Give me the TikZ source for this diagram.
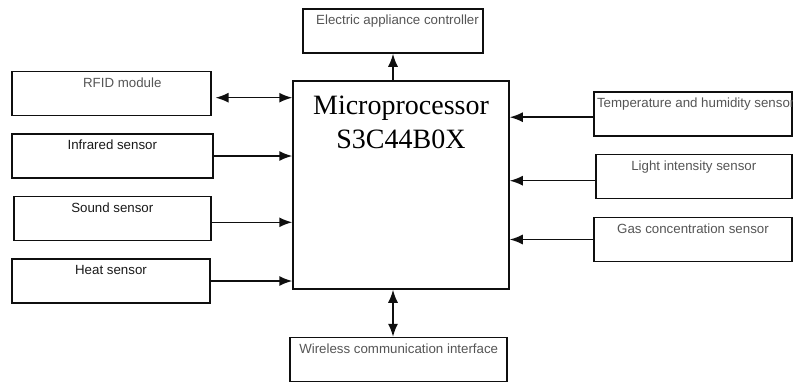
\documentclass[tikz,border=0pt]{standalone}
\usepackage{fontspec}
\usetikzlibrary{arrows.meta}
\newfontfamily\labelfont{Liberation Sans}
\newfontfamily\chipfont{Liberation Serif}
\definecolor{ink}{RGB}{25,25,25}
\definecolor{dim}{RGB}{85,85,85}
\definecolor{edge}{RGB}{15,15,15}

\begin{document}
\begin{tikzpicture}[x=1pt, y=-1pt,
    >={Latex[length=13pt,width=10pt]},
    unit/.style={draw=edge, line width=1.5pt, inner xsep=3pt, inner ysep=3pt,
      text height=12.75pt, text depth=25.25pt,
      font=\labelfont\fontsize{13.3}{16}\selectfont},
    link/.style={draw=edge, line width=1.5pt}]

\useasboundingbox (0,0) rectangle (793,383);

% ── Core ──
\node[draw=edge, line width=1.5pt, minimum width=216pt, minimum height=208pt, inner sep=0pt,
  text height=67pt, text depth=141pt, align=center,
  font=\chipfont\fontsize{28}{33.5}\selectfont] (micro) at (401,185) {Microprocessor\\S3C44B0X};

% ── Top / bottom units ──
\node[unit, text=dim, minimum width=180pt] (ctrl) at (393,31) {\hspace*{9pt}Electric appliance controller};
\node[unit, text=dim, minimum width=217pt] (wireless) at (398.7,359.5) {Wireless communication interface};

% ── Left side ──
\node[unit, text=dim, minimum width=199pt] (rfid) at (111.3,93.7) {\hspace*{22pt}RFID module};
\node[unit, text=ink, minimum width=201pt] (infrared) at (112.3,156) {Infrared sensor};
\node[unit, text=ink, minimum width=197pt] (sound) at (112.3,218.7) {Sound sensor};
\node[unit, text=ink, minimum width=198pt] (heat) at (111,281) {Heat sensor};

% ── Right side ──
\node[unit, text=dim, minimum width=198pt] (temp) at (693,114.2) {\makebox[192pt][l]{Temperature and humidity sensor}};
\node[unit, text=dim, minimum width=196pt] (light) at (693.8,176.7) {Light intensity sensor};
\node[unit, text=dim, minimum width=198pt] (gas) at (693,239.5) {Gas concentration sensor};

% ── Connectors ──
\draw[link, ->] (ctrl.south |- micro.north) -- (ctrl.south);
\draw[link, <->] (wireless.north -| ctrl.south) -- (micro.south -| ctrl.south);

\draw[link, <->, shorten <=4pt] ([yshift=-4pt]rfid.east) -- ([yshift=-4pt]rfid.east -| micro.west);
\draw[link, ->] (infrared.east) -- (infrared.east -| micro.west);
\draw[link, ->] ([yshift=-3.6pt]sound.east) -- ([yshift=-3.6pt]sound.east -| micro.west);
\draw[link, ->] (heat.east) -- (heat.east -| micro.west);

\draw[link, ->] ([yshift=-3pt]temp.west) -- ([yshift=-3pt]temp.west -| micro.east);
\draw[link, ->] ([yshift=-4pt]light.west) -- ([yshift=-4pt]light.west -| micro.east);
\draw[link, ->] (gas.west) -- (gas.west -| micro.east);

\end{tikzpicture}
\end{document}
